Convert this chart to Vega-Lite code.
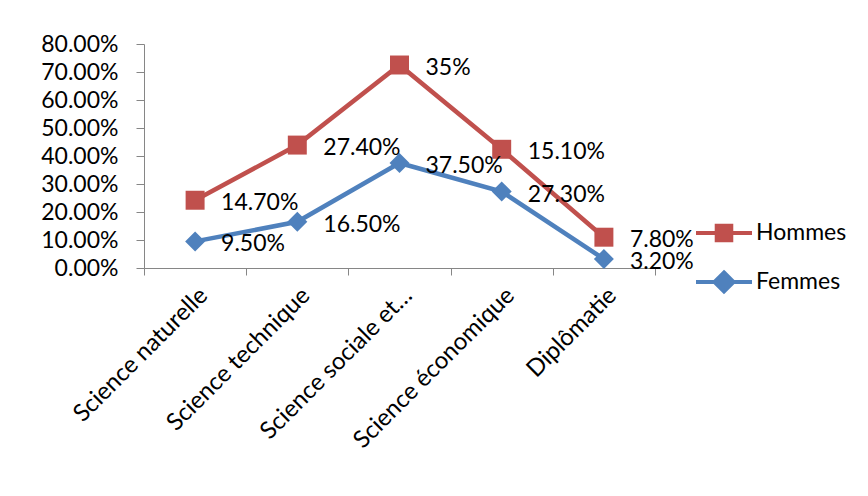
{
  "$schema": "https://vega.github.io/schema/vega-lite/v6.json",
  "width": 511,
  "height": 224,
  "autosize": "none",
  "padding": {"left": 144, "top": 44, "right": 213, "bottom": 228},
  "background": "white",
  "config": {
    "font": "Lato",
    "view": {"stroke": null},
    "axis": {"domainColor": "#868686", "tickColor": "#868686", "labelColor": "black", "grid": false, "title": null, "labelFont": "Lato"}
  },
  "data": {"values": [
    {"category": "Science naturelle", "series": "Femmes", "value": 0.095, "label": "9.50%"},
    {"category": "Science technique", "series": "Femmes", "value": 0.165, "label": "16.50%"},
    {"category": "Science sociale et…", "series": "Femmes", "value": 0.375, "label": "37.50%"},
    {"category": "Science économique", "series": "Femmes", "value": 0.273, "label": "27.30%"},
    {"category": "Diplômatie", "series": "Femmes", "value": 0.032, "label": "3.20%"},
    {"category": "Science naturelle", "series": "Hommes", "value": 0.147, "label": "14.70%"},
    {"category": "Science technique", "series": "Hommes", "value": 0.274, "label": "27.40%"},
    {"category": "Science sociale et…", "series": "Hommes", "value": 0.35, "label": "35%"},
    {"category": "Science économique", "series": "Hommes", "value": 0.151, "label": "15.10%"},
    {"category": "Diplômatie", "series": "Hommes", "value": 0.078, "label": "7.80%"}
  ]},
  "transform": [
    {"stack": "value", "groupby": ["category"], "sort": [{"field": "series", "order": "ascending"}], "as": ["y0", "y1"]}
  ],
  "encoding": {
    "x": {
      "field": "category", "type": "nominal",
      "sort": ["Science naturelle", "Science technique", "Science sociale et…", "Science économique", "Diplômatie"],
      "scale": {"type": "band", "paddingInner": 0, "paddingOuter": 0},
      "axis": {"labelAngle": -45, "labelFontSize": 24, "labelLimit": 400, "tickBand": "extent", "tickSize": 7, "labelPadding": 8}
    },
    "y": {
      "field": "y1", "type": "quantitative",
      "scale": {"domain": [0, 0.8], "nice": false},
      "axis": {"values": [0, 0.1, 0.2, 0.3, 0.4, 0.5, 0.6, 0.7, 0.8], "format": ".2%", "labelFontSize": 23, "tickSize": 8, "labelPadding": 18}
    }
  },
  "layer": [
    {
      "transform": [{"filter": "datum.series === 'Hommes'"}],
      "mark": {"type": "line", "strokeWidth": 4.5, "color": "#C0504D"}
    },
    {
      "transform": [{"filter": "datum.series === 'Femmes'"}],
      "mark": {"type": "line", "strokeWidth": 4.5, "color": "#4F81BD"}
    },
    {
      "transform": [{"filter": "datum.series === 'Hommes'"}],
      "mark": {"type": "point", "filled": true, "opacity": 1, "size": 360, "shape": "square", "color": "#C0504D"}
    },
    {
      "transform": [{"filter": "datum.series === 'Femmes'"}],
      "mark": {"type": "point", "filled": true, "opacity": 1, "size": 400, "shape": "diamond", "color": "#4F81BD"}
    },
    {
      "mark": {"type": "text", "align": "left", "baseline": "middle", "dx": 26, "dy": 3, "fontSize": 23, "color": "black"},
      "encoding": {
        "text": {"field": "label", "type": "nominal"},
        "detail": {"field": "series", "type": "nominal"}
      }
    },
    {
      "transform": [{"filter": "false"}],
      "mark": {"type": "point", "filled": true, "opacity": 1, "size": 3136, "strokeWidth": 4},
      "encoding": {
        "color": {
          "field": "series", "type": "nominal",
          "scale": {"domain": ["Hommes", "Femmes"], "range": ["#C0504D", "#4F81BD"]},
          "legend": {"title": null, "orient": "none", "legendX": 550, "legendY": 159, "labelFontSize": 23, "labelOffset": 2, "symbolSize": 3136, "rowPadding": 3, "padding": 0, "symbolStrokeWidth": 4, "labelColor": "black",
            "encode": {"symbols": {"update": {"stroke": {"scale": "color", "field": "value"}, "strokeWidth": {"value": 4}}}}}
        },
        "stroke": {
          "field": "series", "type": "nominal",
          "scale": {"domain": ["Hommes", "Femmes"], "range": ["#C0504D", "#4F81BD"]},
          "legend": {"title": null, "orient": "none", "legendX": 550, "legendY": 159, "labelFontSize": 23, "labelOffset": 2, "symbolSize": 3136, "rowPadding": 3, "padding": 0, "symbolStrokeWidth": 4, "labelColor": "black",
            "encode": {"symbols": {"update": {"stroke": {"scale": "color", "field": "value"}, "strokeWidth": {"value": 4}}}}}
        },
        "shape": {
          "field": "series", "type": "nominal",
          "scale": {"domain": ["Hommes", "Femmes"], "range": ["M-1,0H1M-0.26,-0.26H0.26V0.26H-0.26Z", "M-1,0H1M0,-0.34L0.34,0L0,0.34L-0.34,0Z"]},
          "legend": {"title": null, "orient": "none", "legendX": 550, "legendY": 159, "labelFontSize": 23, "labelOffset": 2, "symbolSize": 3136, "rowPadding": 3, "padding": 0, "symbolStrokeWidth": 4, "labelColor": "black",
            "encode": {"symbols": {"update": {"stroke": {"scale": "color", "field": "value"}, "strokeWidth": {"value": 4}}}}}
        }
      }
    }
  ]
}
